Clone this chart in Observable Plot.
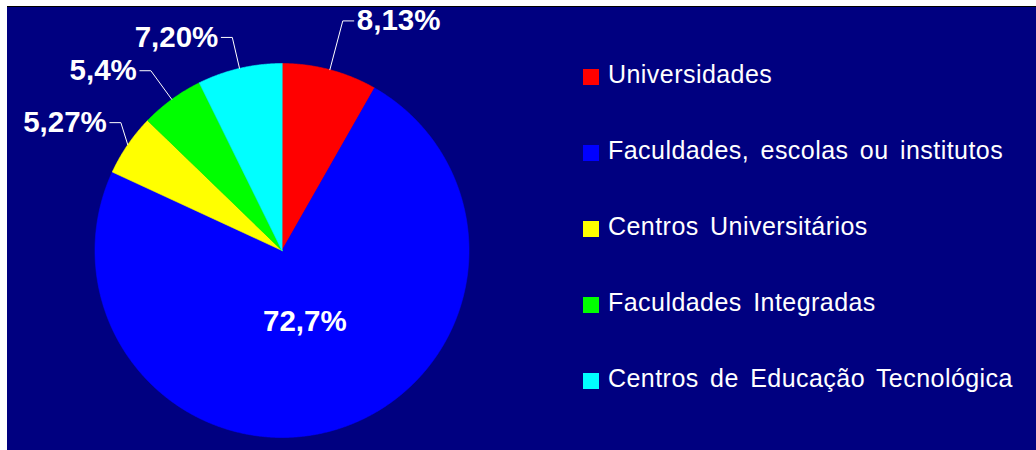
<!DOCTYPE html>
<html><head><meta charset="utf-8">
<script src="https://cdn.jsdelivr.net/npm/d3@7"></script>
<script src="https://cdn.jsdelivr.net/npm/@observablehq/plot@0.6"></script>
<style>
body{margin:0;background:#fff;}
#wrap{position:relative;width:1036px;height:450px;overflow:hidden;font-family:"Liberation Sans",Arial,sans-serif;}
#bg{position:absolute;left:7px;top:6px;right:0;bottom:0;background:#000080;border-top:1px solid #000;}
#plot{position:absolute;left:0;top:0;}
.sw{position:absolute;left:583px;width:16px;height:16px;}
.lt{position:absolute;left:608px;font-size:25px;line-height:25px;color:#fff;letter-spacing:0.45px;word-spacing:4px;white-space:nowrap;}
</style></head><body>
<div id="wrap"><div id="bg"></div><div id="plot"></div><div id="legend"></div></div>
<script>
const categories = ["Universidades", "Faculdades, escolas ou institutos", "Centros Universitários", "Faculdades Integradas", "Centros de Educação Tecnológica"];
const values = [8.13, 72.7, 5.27, 5.4, 7.20];
const labels = ["8,13%", "72,7%", "5,27%", "5,4%", "7,20%"];
const colors = ["#FF0000", "#0000FF", "#FFFF00", "#00FF00", "#00FFFF"];

// layout (pixels)
const W = 1036, H = 450, R = 187, CX = 281.5, CY = 250;
const elbowK = [1.27, null, 1.1, 1.19, 1.17]; // leader elbow radius factor (null = inside label)
const elbowShift = [0, 0, 4, 0, 0]; // small angular tweak (degrees)
const hseg = 11 / R;

const arcs = d3.pie().sort(null).value(d => d)(values);

const sliceMarks = arcs.map((a, i) => {
  const pts = [{x: 0, y: 0}];
  const n = Math.max(4, Math.ceil((a.endAngle - a.startAngle) / 0.005));
  for (let k = 0; k <= n; k++) {
    const t = a.startAngle + (a.endAngle - a.startAngle) * k / n;
    pts.push({x: Math.sin(t), y: Math.cos(t)});
  }
  return Plot.line(pts, {x: "x", y: "y", fill: colors[i], stroke: colors[i], strokeWidth: 0.6, curve: "linear-closed"});
});

const leaderPts = [], rightLabels = [], leftLabels = [], insideLabels = [];
arcs.forEach((a, i) => {
  const m = (a.startAngle + a.endAngle) / 2;
  const s = Math.sin(m), c = Math.cos(m);
  if (elbowK[i] == null) {
    insideLabels.push({x: 0.4 * s, y: 0.4 * c, label: labels[i]});
    return;
  }
  const k = elbowK[i];
  const me = m + elbowShift[i] * Math.PI / 180;
  const dir = s >= 0 ? 1 : -1;
  const ex = k * Math.sin(me), ey = k * Math.cos(me);
  leaderPts.push({key: i, x: s, y: c});
  leaderPts.push({key: i, x: ex, y: ey});
  leaderPts.push({key: i, x: ex + dir * hseg, y: ey});
  (dir > 0 ? rightLabels : leftLabels).push({x: ex + dir * hseg, y: ey, label: labels[i]});
});

const font = {fill: "white", fontSize: 29.5, fontWeight: "bold", fontFamily: "Liberation Sans, Arial, sans-serif"};

const chart = Plot.plot({
  width: W, height: H, margin: 0,
  style: {background: "transparent", overflow: "visible"},
  x: {domain: [-CX / R, (W - CX) / R], range: [0, W], axis: null},
  y: {domain: [-(H - CY) / R, CY / R], range: [H, 0], axis: null},
  marks: [
    ...sliceMarks,
    Plot.line(leaderPts, {x: "x", y: "y", z: "key", stroke: "white", strokeWidth: 1}),
    Plot.text(rightLabels, {x: "x", y: "y", text: "label", textAnchor: "start", dx: 3, ...font}),
    Plot.text(leftLabels, {x: "x", y: "y", text: "label", textAnchor: "end", dx: -3, ...font}),
    Plot.text(insideLabels, {x: "x", y: "y", text: "label", ...font})
  ]
});
document.getElementById("plot").appendChild(chart);

const leg = document.getElementById("legend");
categories.forEach((cat, i) => {
  const base = 83 + i * 76;
  const sw = document.createElement("div");
  sw.className = "sw"; sw.style.top = (base - 14) + "px"; sw.style.background = colors[i];
  const t = document.createElement("div");
  t.className = "lt"; t.style.top = (base - 21.2) + "px"; t.textContent = cat;
  leg.appendChild(sw); leg.appendChild(t);
});
</script>
</body></html>
